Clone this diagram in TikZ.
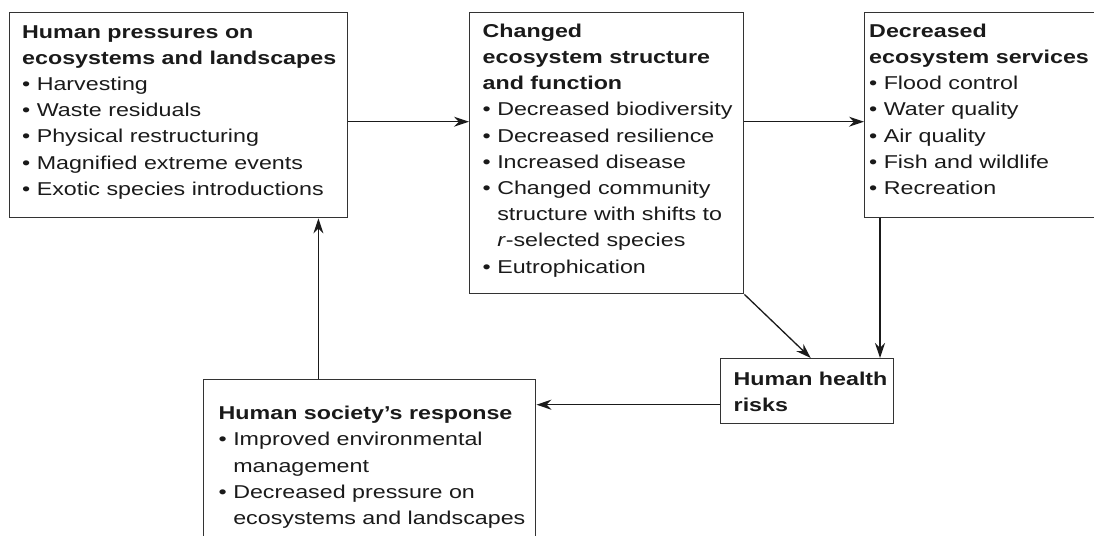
\documentclass[tikz,border=0pt]{standalone}
\usepackage{fontspec}
\setmainfont[FakeStretch=1.25]{Liberation Sans}
\usepackage{xcolor}
\usetikzlibrary{arrows.meta}
\definecolor{Ink}{HTML}{1A1A1A}
\definecolor{Frame}{HTML}{333333}
% box body: width, height, left pad, first baseline, text
\newcommand{\boxbody}[5]{\parbox[c][#2][t]{#1}{\raggedright\leftskip=#3\relax
  \fontsize{18.6}{26.2}\selectfont\rule{0pt}{#4}#5\par}}
\newcommand{\itm}{\par\hangindent=14.6pt\hangafter=1 \textbullet\ }
\tikzset{
  panel/.style={draw=Frame,line width=1.4pt,anchor=north west,inner sep=0pt,text=Ink},
  flow/.style={-{Stealth[length=15pt,width=10pt]},draw=Ink,line width=1.3pt}
}

\begin{document}
\begin{tikzpicture}[x=1pt,y=-1pt]
  \useasboundingbox (0,0) rectangle (1094,535);
  \clip (0,0) rectangle (1094,535);
  \node[panel] (press) at (9,12) {\boxbody{338pt}{205pt}{12.5pt}{25.3pt}{{\bfseries Human pressures on\newline ecosystems and landscapes}\itm Harvesting\itm Waste residuals\itm Physical restructuring\itm Magnified extreme events\itm Exotic species introductions}};
  \node[panel] (change) at (469,12) {\boxbody{274pt}{281pt}{13pt}{24.5pt}{{\bfseries Changed\newline ecosystem structure\newline and function}\itm Decreased biodiversity\itm Decreased resilience\itm Increased disease\itm Changed community\newline structure with shifts to\newline \textit{r}-selected species\itm Eutrophication}};
  \node[panel] (serv) at (864,12) {\boxbody{260pt}{205pt}{4.5pt}{24.5pt}{{\bfseries Decreased\newline ecosystem services}\itm Flood control\itm Water quality\itm Air quality\itm Fish and wildlife\itm Recreation}};
  \node[panel] (health) at (720,358) {\boxbody{173pt}{65pt}{13pt}{27pt}{{\bfseries Human health\newline risks}}};
  \node[panel] (resp) at (203,379) {\boxbody{332pt}{180pt}{15pt}{40pt}{{\bfseries Human society's response}\itm Improved environmental\newline management\itm Decreased pressure on\newline ecosystems and landscapes}};
  % connectors
  \draw[flow] ([yshift=-6.5pt]press.east) coordinate (pe) -- (pe -| change.west);
  \draw[flow] (pe -| change.east) -- (pe -| serv.west);
  \draw[flow] (change.south east) -- ([xshift=3.5pt]health.north);
  \draw[flow] ([xshift=16pt]serv.south west) coordinate (sd) -- (sd |- health.north);
  \draw[flow] ([yshift=-13.5pt]health.west) coordinate (hw) -- (hw -| resp.east);
  \coordinate (ps) at ([xshift=-30pt]press.south east);
  \draw[flow] (ps |- resp.north) -- (ps);
\end{tikzpicture}
\end{document}
